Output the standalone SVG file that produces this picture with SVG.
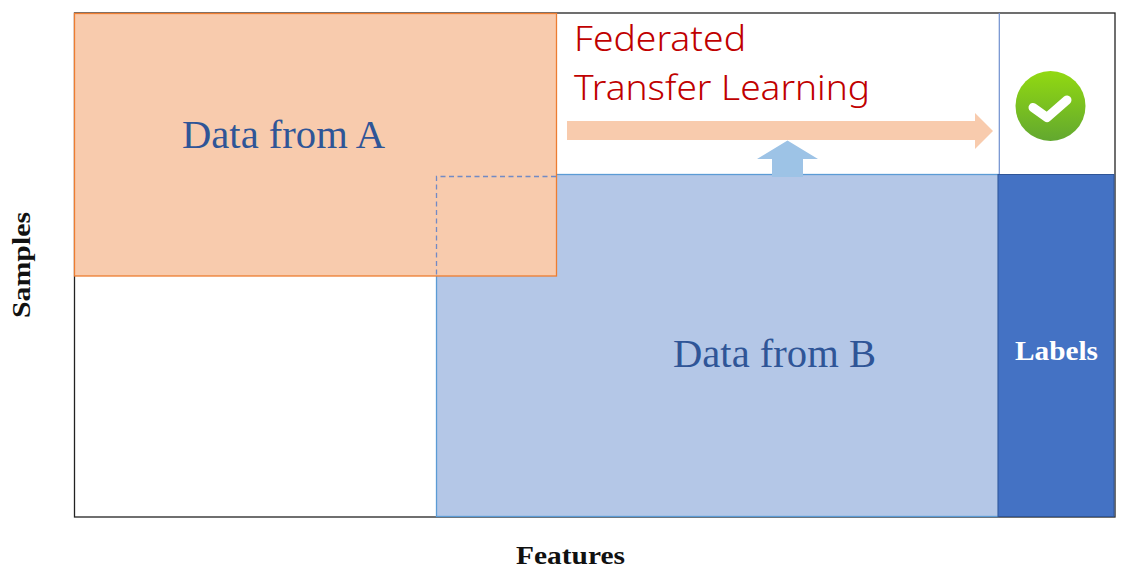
<svg xmlns="http://www.w3.org/2000/svg" width="1125" height="575" viewBox="0 0 1125 575">
<defs>
<linearGradient id="g" x1="0" y1="0" x2="0" y2="1"><stop offset="0" stop-color="#92d911"/><stop offset="1" stop-color="#62a82f"/></linearGradient>
</defs>
<style>
.serif{font-family:"Liberation Serif","DejaVu Serif",serif}
.blue{font-size:39px;fill:#2f5597}
.bold{font-weight:bold;font-size:26px;fill:#111}
.red{font-family:"Noto Sans","Open Sans",sans-serif;font-weight:300;font-size:35px;fill:#c00000}
</style>
<rect width="1125" height="575" fill="#fff"/>
<g id="frame"><rect x="74.500" y="13" width="1040.500" height="504" fill="#fff" stroke="#222" stroke-width="1.300"/></g>
<g id="data-b"><rect x="436.500" y="174.500" width="562" height="342" fill="#b4c7e7" stroke="#5b9bd5" stroke-width="1.300"/>
<text class="serif blue" x="673" y="367" textLength="203" lengthAdjust="spacingAndGlyphs">Data from B</text></g>
<g id="labels"><rect x="998" y="174.500" width="116" height="342" fill="#4472c4" stroke="#2f5597" stroke-width="1"/>
<text class="serif" x="1015" y="360" textLength="83" lengthAdjust="spacingAndGlyphs" font-size="27" font-weight="bold" fill="#fff">Labels</text></g>
<g id="data-a"><rect x="74.500" y="13.500" width="482" height="262.500" fill="#f8cbad" stroke="#ed7d31" stroke-width="1.300"/>
<text class="serif blue" x="182" y="148" textLength="203" lengthAdjust="spacingAndGlyphs">Data from A</text></g>
<g id="overlap"><path d="M556 176.500H436.500V275" fill="none" stroke="#5b7fc9" stroke-width="1.300" stroke-dasharray="5 3.500" opacity=".85"/></g>
<g id="divider"><line x1="999.300" y1="13" x2="999.300" y2="174" stroke="#6f8fcf" stroke-width="1.200"/></g>
<g id="ftl-label"><text class="red" x="574" y="51" textLength="172" lengthAdjust="spacingAndGlyphs">Federated</text><text class="red" x="574" y="100" textLength="296" lengthAdjust="spacingAndGlyphs">Transfer Learning</text></g>
<g id="connectors">
<polygon id="arrow-right" points="567,121 975,121 975,113 993,131 975,149 975,140 567,140" fill="#f8cbad"/>
<polygon id="arrow-up" points="772,177 772,159 757,159 787.500,140.500 818,159 803,159 803,177" fill="#9dc3e6"/>
</g>
<g id="check"><circle cx="1050.500" cy="106" r="35" fill="url(#g)"/>
<polyline points="1033,107.500 1047,117.500 1067,100" fill="none" stroke="#fff" stroke-width="9" stroke-linejoin="round" stroke-linecap="round"/></g>
<text class="serif bold" x="516" y="564" textLength="109" lengthAdjust="spacingAndGlyphs">Features</text>
<text class="serif bold" transform="translate(30 318) rotate(-90)" textLength="106" lengthAdjust="spacingAndGlyphs">Samples</text>
</svg>
